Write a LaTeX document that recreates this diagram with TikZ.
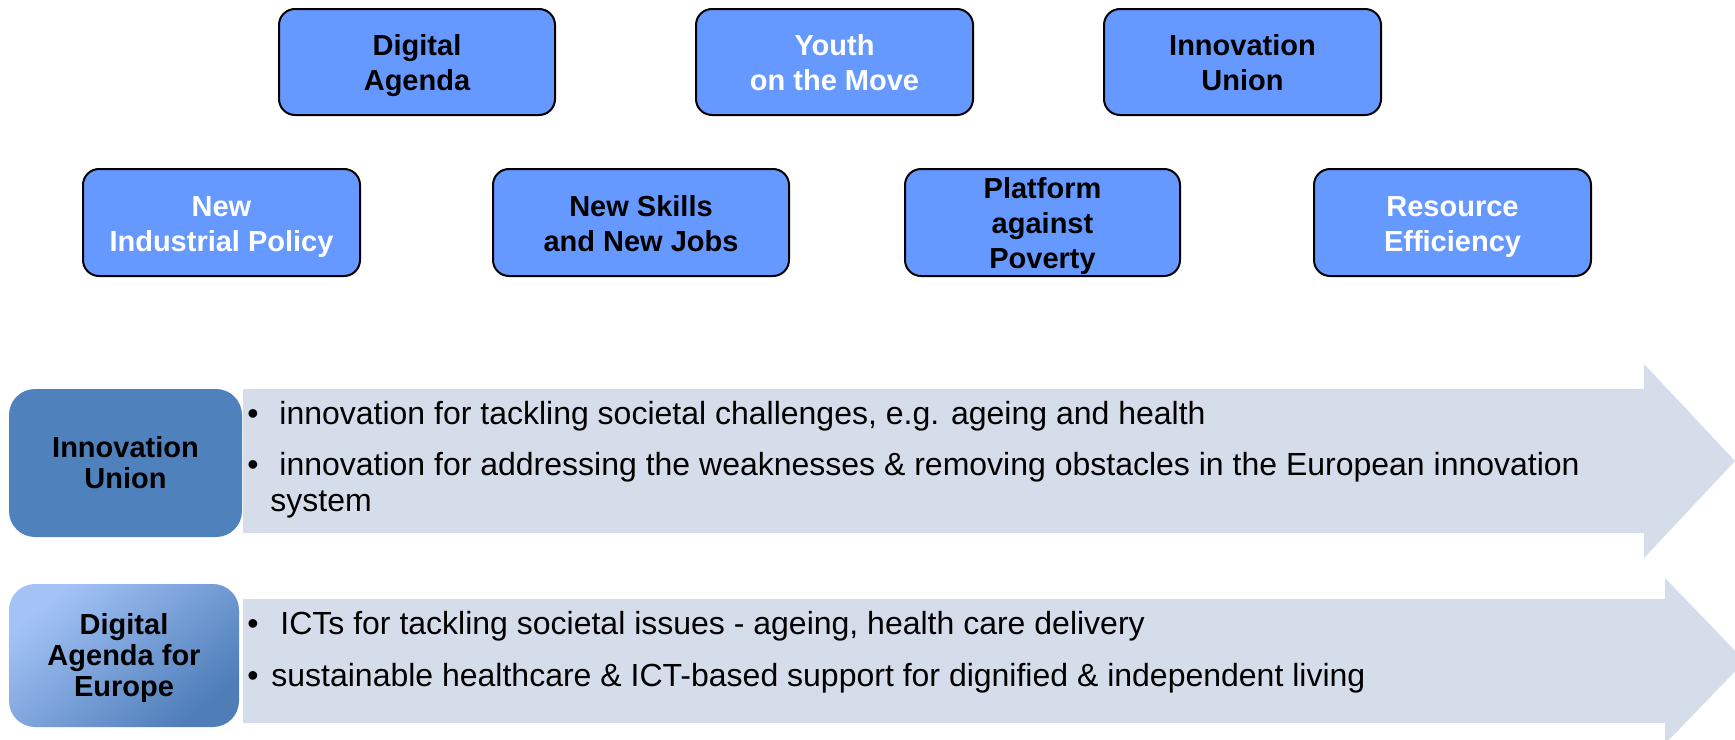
\documentclass[tikz,border=0pt]{standalone}
\usepackage{fontspec}
\setmainfont{Liberation Sans}
\definecolor{boxblue}{HTML}{6699FF}
\definecolor{iublue}{HTML}{4F81BD}
\definecolor{gradlight}{HTML}{A3C3F7}
\definecolor{graddark}{HTML}{4E7DB8}
\definecolor{arrowfill}{HTML}{D5DCEA}
\newcommand\toprule{\rule{0pt}{14.5pt}}
\newcommand\botrule{\rule[-3.2pt]{0pt}{3.2pt}}
\tikzset{
  topbox/.style={draw=black, line width=1pt, fill=boxblue, rounded corners=8pt,
    minimum height=53pt, align=center, font=\fontsize{14.5}{17.5}\selectfont\bfseries, inner sep=0pt},
  leftbox/.style={rounded corners=13pt, align=center, inner sep=0pt,
    font=\fontsize{14.5}{15.5}\selectfont\bfseries},
  bigarrow/.style={fill=arrowfill, draw=none},
  itemtext/.style={anchor=base west, inner sep=0pt, font=\fontsize{16}{18}\selectfont}
}
\begin{document}
\begin{tikzpicture}[x=0.5pt,y=-0.5pt]
\useasboundingbox (0,0) rectangle (1735,739);
\clip (0,0) rectangle (1735,739);
% top row
\node[topbox, minimum width=138pt, text=black] (da) at (417,62) {\toprule Digital\\Agenda\botrule};
\node[topbox, minimum width=138.5pt, text=white] (ym) at (834.5,62) {\toprule Youth\\on the Move\botrule};
\node[topbox, minimum width=138.5pt, text=black] (iu) at (1242.5,62) {\toprule Innovation\\Union\botrule};
% second row
\node[topbox, minimum width=138.5pt, minimum height=53.5pt, text=white] (nip) at (221.5,222.5) {\toprule New\\Industrial Policy\botrule};
\node[topbox, minimum width=148pt, minimum height=53.5pt, text=black] (nsj) at (641,222.5) {\toprule New Skills\\and New Jobs\botrule};
\node[topbox, minimum width=137.5pt, minimum height=53.5pt, text=black] (pap) at (1042.5,222.5) {\toprule Platform\\against\\Poverty\botrule};
\node[topbox, minimum width=138.5pt, minimum height=53.5pt, text=white] (re) at (1452.5,222.5) {\toprule Resource\\Efficiency\botrule};
% arrows
\path[bigarrow] (243,389) -- (1644,389) -- (1644,364) -- (1735,461) -- (1644,558) -- (1644,533) -- (243,533) -- cycle;
\path[bigarrow] (243,599) -- (1665,599) -- (1665,578) -- (1745,661) -- (1665,744) -- (1665,723) -- (243,723) -- cycle;
% left boxes
\node[leftbox, fill=iublue, minimum width=116.5pt, minimum height=74pt] (iub) at (125.5,463) {Innovation\\Union};
\node[leftbox, top color=gradlight, bottom color=graddark, shading angle=40, minimum width=115pt, minimum height=71.5pt] (dae) at (124,655.5) {\rule{0pt}{13.3pt}Digital\\Agenda for\\Europe};
% arrow 1 items
\node[itemtext] (b1) at (247,424) {•};
\node[itemtext] (t1) at (279,424) {innovation for tackling societal challenges, e.g. ageing and health};
\node[itemtext] (b2) at (247,475.5) {•};
\node[itemtext] (t2) at (279,475.5) {innovation for addressing the weaknesses \& removing obstacles in the European innovation};
\node[itemtext] (t2b) at (270,511) {system};
% arrow 2 items
\node[itemtext] (b3) at (247,634) {•};
\node[itemtext] (t3) at (280,634) {ICTs for tackling societal issues - ageing, health care delivery};
\node[itemtext] (b4) at (247,686) {•};
\node[itemtext] (t4) at (271,686) {sustainable healthcare \& ICT-based support for dignified \& independent living};
\end{tikzpicture}
\end{document}
